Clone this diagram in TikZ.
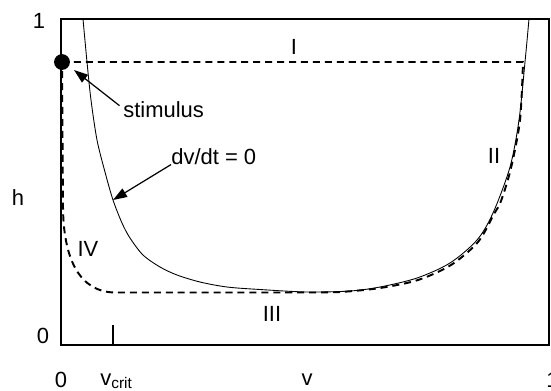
\documentclass[tikz,border=0pt]{standalone}
\usepackage{fontspec}
\setmainfont{Liberation Sans}
\usepackage{tikz}
\usetikzlibrary{arrows.meta,positioning,calc}

\begin{document}
\begin{tikzpicture}[
    x=0.02cm, y=-0.02cm,
    font=\fontsize{12.5}{14}\selectfont,
    frame/.style={draw=black, line width=1.1pt},
    ncline/.style={draw=black, line width=0.5pt},
    traj/.style={draw=black, line width=1.1pt, dash pattern=on 4pt off 2.8pt},
    pointer/.style={-{Triangle[length=8pt,width=5.5pt]}, line width=0.7pt},
    lbl/.style={inner sep=0pt, anchor=base},
    stimdot/.style={circle, fill=black, inner sep=0pt, minimum size=9pt}]

    \useasboundingbox (0,0) rectangle (551,390);

    \draw[frame] (61,19) rectangle (549,345);
    \draw[line width=0.6pt] (113,325) -- (113,345);

    \draw[ncline] plot[smooth, tension=0.5] coordinates {
      (83,19) (87,62) (91,100) (97,140) (105,172) (113,200) (122,223)
      (130,238) (143,255) (160,267) (177,275) (200,282) (227,287)
      (260,289.5) (307,292) (350,291) (380,287) (417,278) (450,263)
      (477,240) (493,213) (510,167) (519,120) (525,62) (529,19)};

    \node[stimdot] (dot) at (62,62) {};
    \draw[traj] (dot.center) -- (523,62)
      -- plot[smooth, tension=0.5] coordinates {
        (523,62) (520,120) (511,168) (501,201) (494,214) (478,242)
        (451,265) (418,280) (380,288) (340,292) (300,292.5)}
      -- (115,292.5)
      .. controls (80,292) and (63,260) .. (63,205)
      -- cycle;

    \node[lbl] (lI)   at (294,54)  {I};
    \node[lbl] (lII)  at (494,163) {II};
    \node[lbl] (lIII) at (272,321) {III};
    \node[lbl] (lIV)  at (88,256)  {IV};

    \node[lbl, anchor=base west] (stim) at (123,117) {stimulus};
    \node[lbl, anchor=base west] (dvdt) at (171,164) {dv/dt = 0};
    \coordinate (stimtip) at (74,70);
    \coordinate (nctip) at (113,200);
    \draw[pointer] ([xshift=-2pt,yshift=2pt]stim.west) -- (stimtip);
    \draw[pointer] (dvdt.south west) -- (nctip);

    \node[lbl] (hlab)  at (18,205)  {h};
    \node[lbl] (hone)  at (39,28)   {1};
    \node[lbl] (hzero) at (43,343)  {0};
    \node[lbl] (vzero) at (61,387)  {0};
    \node[lbl, anchor=base west] (vcrit) at (100,385) {v\textsubscript{crit}};
    \node[lbl] (vlab)  at (307,385) {v};
    \node[lbl, anchor=base west] (vone) at (546,387) {1};
\end{tikzpicture}
\end{document}
